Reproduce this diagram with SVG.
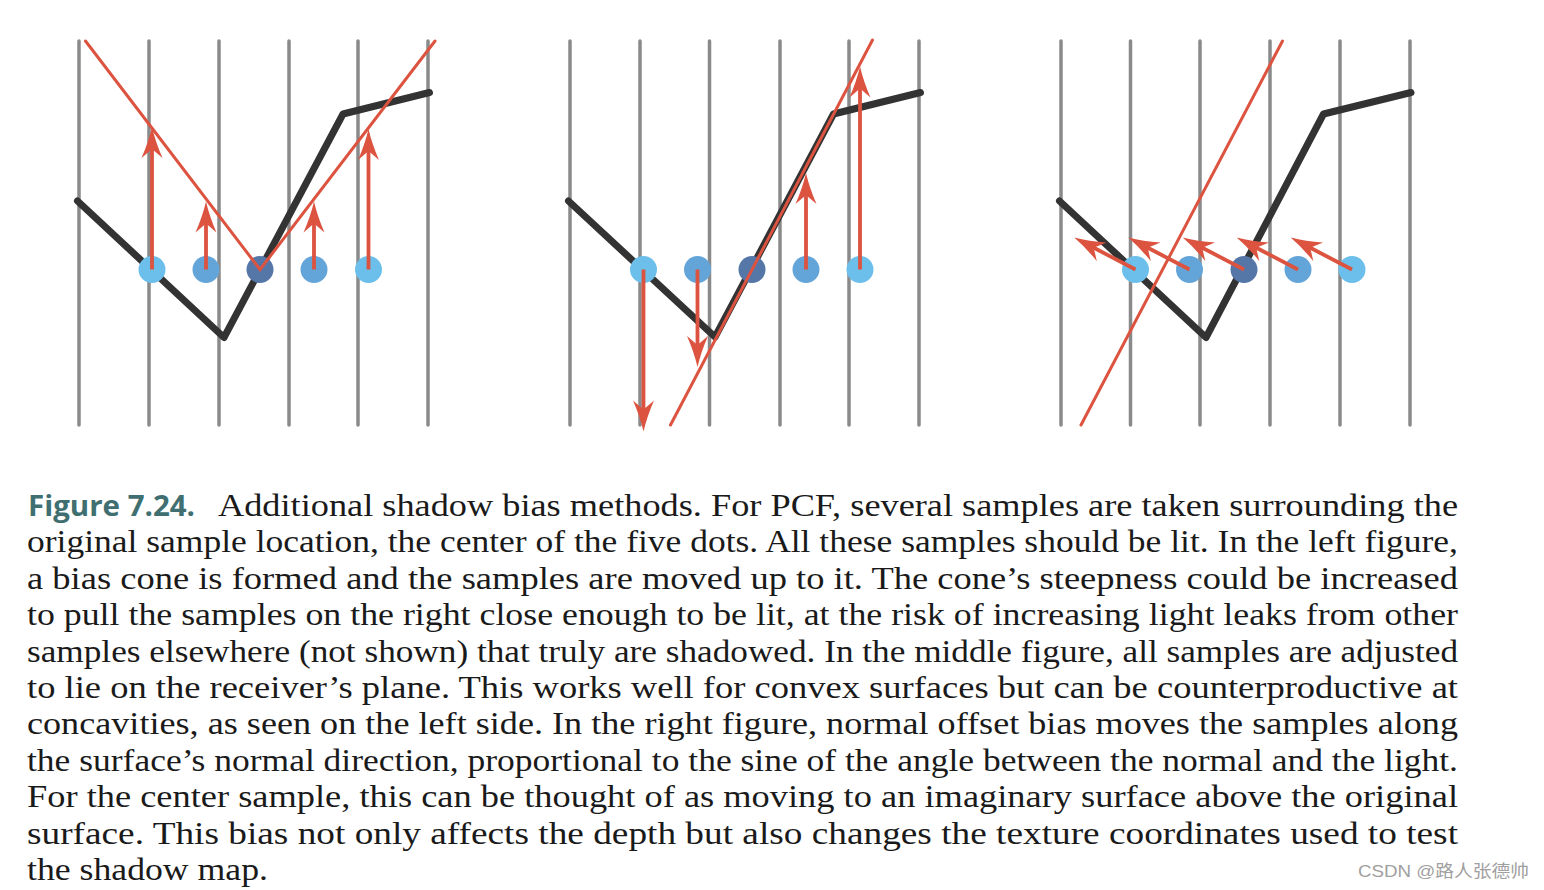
<svg xmlns="http://www.w3.org/2000/svg" xmlns:xlink="http://www.w3.org/1999/xlink" width="1544" height="890" viewBox="0 0 1544 890">
<style>
.grid{stroke:#8a8a8a;stroke-width:3.5;stroke-linecap:round;fill:none}
.surf{stroke:#333333;stroke-width:7;stroke-linecap:round;stroke-linejoin:round;fill:none}
.ray{stroke:#dc5340;stroke-width:3;stroke-linecap:round;fill:none}
.shaft{stroke:#dc5340;stroke-width:3.8;fill:none}
.head{fill:#dc5340}
.dl{fill:#6bbfea}
.dm{fill:#64a5d9}
.dd{fill:#5577a8}
.cap{font-family:"Liberation Serif","Times New Roman",serif;font-size:31px;fill:#1a1a1a}
.fig{font-family:"Open Sans","Noto Sans",sans-serif;font-weight:bold;font-size:29px;fill:#3f6f70}
.wm{font-family:"Liberation Sans","Noto Sans CJK SC",sans-serif;font-size:17px;fill:#a0a0a0}
</style>
<defs>
<path id="ah" d="M0,0 Q-15,-3.5 -31,-10.5 L-22,0 L-31,10.5 Q-15,3.5 0,0 Z"/>
</defs>
<rect width="1544" height="890" fill="#ffffff"/>

<g id="panel-left">
<path class="grid" d="M79,41V425M149,41V425M219,41V425M289,41V425M358,41V425M428,41V425"/>
<path class="surf" d="M77.5,201 L224,337.5 L343,114 L429.5,92.5"/>
<circle class="dl" cx="152" cy="269.5" r="13.5"/>
<circle class="dm" cx="206" cy="269.5" r="13.5"/>
<circle class="dd" cx="260" cy="269.5" r="13.5"/>
<circle class="dm" cx="314" cy="269.5" r="13.5"/>
<circle class="dl" cx="368.5" cy="269.5" r="13.5"/>
<path class="ray" d="M85.5,41 L260,269.5 L435,41"/>
<g id="arrows-left">
<path class="shaft" d="M152,269.5V147M206,269.5V221.5M314,269.5V221.5M368.5,269.5V149"/>
<use xlink:href="#ah" class="head" transform="translate(152,127) rotate(-90)"/>
<use xlink:href="#ah" class="head" transform="translate(206,201.5) rotate(-90)"/>
<use xlink:href="#ah" class="head" transform="translate(314,201.5) rotate(-90)"/>
<use xlink:href="#ah" class="head" transform="translate(368.5,129) rotate(-90)"/>
</g>
</g>

<g id="panel-middle">
<path class="grid" d="M570,41V425M640,41V425M709.5,41V425M780,41V425M849,41V425M919,41V425"/>
<path class="surf" d="M568.5,201 L715,337 L833.5,114 L920.5,92.5"/>
<circle class="dl" cx="643.5" cy="269.5" r="13.5"/>
<circle class="dm" cx="697.5" cy="269.5" r="13.5"/>
<circle class="dd" cx="752" cy="269.5" r="13.5"/>
<circle class="dm" cx="806" cy="269.5" r="13.5"/>
<circle class="dl" cx="860" cy="269.5" r="13.5"/>
<path class="ray" d="M670.5,425 L872.5,40"/>
<g id="arrows-middle">
<path class="shaft" d="M643.5,269.5V411.5M697.5,269.5V347M806,269.5V193M860,269.5V86.5"/>
<use xlink:href="#ah" class="head" transform="translate(643.5,431.5) rotate(90)"/>
<use xlink:href="#ah" class="head" transform="translate(697.5,367) rotate(90)"/>
<use xlink:href="#ah" class="head" transform="translate(806,173) rotate(-90)"/>
<use xlink:href="#ah" class="head" transform="translate(860,66.5) rotate(-90)"/>
</g>
</g>

<g id="panel-right">
<path class="grid" d="M1061,41V425M1130.5,41V425M1200,41V425M1270,41V425M1340,41V425M1410,41V425"/>
<path class="surf" d="M1059.5,201 L1206,337.5 L1323.5,114 L1411,92.5"/>
<circle class="dl" cx="1135.5" cy="269.5" r="13.5"/>
<circle class="dm" cx="1189.5" cy="269.5" r="13.5"/>
<circle class="dd" cx="1244" cy="269.5" r="13.5"/>
<circle class="dm" cx="1298" cy="269.5" r="13.5"/>
<circle class="dl" cx="1352" cy="269.5" r="13.5"/>
<path class="ray" d="M1081,425 L1282.5,41"/>
<g id="arrows-right">
<path class="shaft" d="M1135.5,269.5L1091.9,246.8M1189.5,269.5L1145.9,246.8M1244,269.5L1200.4,246.8M1298,269.5L1254.4,246.8M1352,269.5L1308.4,246.8"/>
<use xlink:href="#ah" class="head" transform="translate(1074.2,237.5) rotate(207.56)"/>
<use xlink:href="#ah" class="head" transform="translate(1128.2,237.5) rotate(207.56)"/>
<use xlink:href="#ah" class="head" transform="translate(1182.7,237.5) rotate(207.56)"/>
<use xlink:href="#ah" class="head" transform="translate(1236.7,237.5) rotate(207.56)"/>
<use xlink:href="#ah" class="head" transform="translate(1290.7,237.5) rotate(207.56)"/>
</g>
</g>

<g id="caption">
<text class="fig" x="28" y="516" textLength="167" lengthAdjust="spacingAndGlyphs">Figure 7.24.</text>
<text class="cap" x="218" y="516" textLength="1240" lengthAdjust="spacingAndGlyphs">Additional shadow bias methods. For PCF, several samples are taken surrounding the</text>
<text class="cap" x="27" y="552.4" textLength="1431" lengthAdjust="spacingAndGlyphs">original sample location, the center of the five dots. All these samples should be lit. In the left figure,</text>
<text class="cap" x="27" y="588.8" textLength="1431" lengthAdjust="spacingAndGlyphs">a bias cone is formed and the samples are moved up to it. The cone’s steepness could be increased</text>
<text class="cap" x="27" y="625.2" textLength="1431" lengthAdjust="spacingAndGlyphs">to pull the samples on the right close enough to be lit, at the risk of increasing light leaks from other</text>
<text class="cap" x="27" y="661.6" textLength="1431" lengthAdjust="spacingAndGlyphs">samples elsewhere (not shown) that truly are shadowed. In the middle figure, all samples are adjusted</text>
<text class="cap" x="27" y="698" textLength="1431" lengthAdjust="spacingAndGlyphs">to lie on the receiver’s plane. This works well for convex surfaces but can be counterproductive at</text>
<text class="cap" x="27" y="734.4" textLength="1431" lengthAdjust="spacingAndGlyphs">concavities, as seen on the left side. In the right figure, normal offset bias moves the samples along</text>
<text class="cap" x="27" y="770.8" textLength="1431" lengthAdjust="spacingAndGlyphs">the surface’s normal direction, proportional to the sine of the angle between the normal and the light.</text>
<text class="cap" x="27" y="807.2" textLength="1431" lengthAdjust="spacingAndGlyphs">For the center sample, this can be thought of as moving to an imaginary surface above the original</text>
<text class="cap" x="27" y="843.6" textLength="1431" lengthAdjust="spacingAndGlyphs">surface. This bias not only affects the depth but also changes the texture coordinates used to test</text>
<text class="cap" x="27" y="880" textLength="241" lengthAdjust="spacingAndGlyphs">the shadow map.</text>
</g>

<text class="wm" x="1358" y="877" textLength="171" lengthAdjust="spacingAndGlyphs">CSDN @路人张德帅</text>
</svg>
